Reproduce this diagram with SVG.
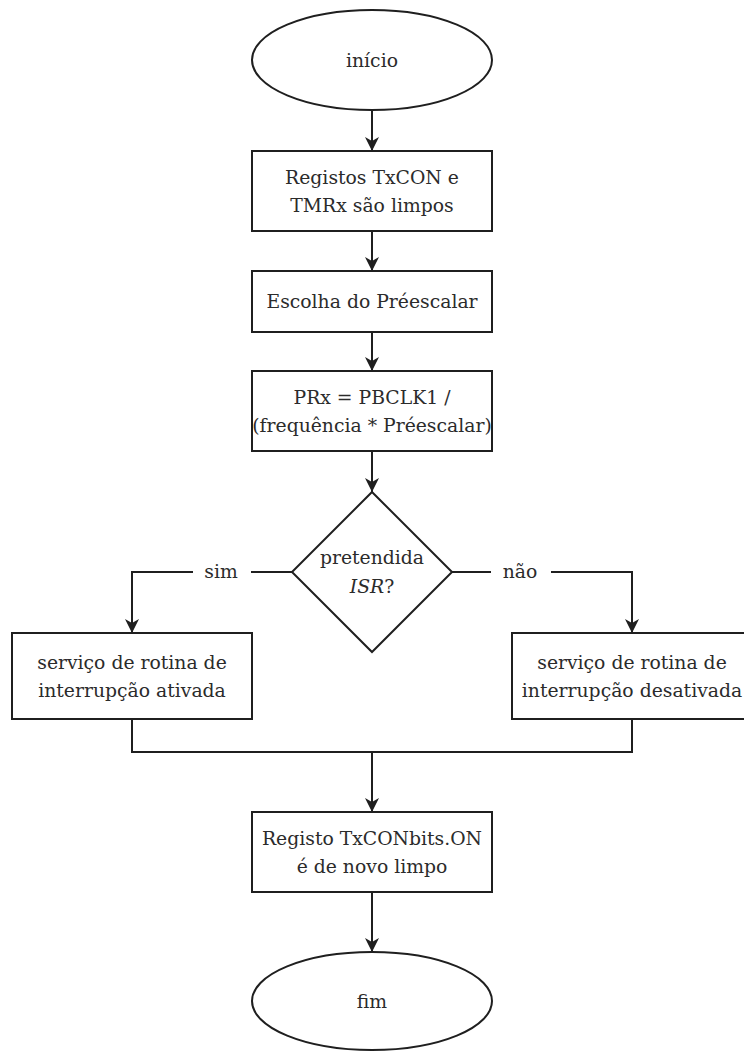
<svg xmlns="http://www.w3.org/2000/svg" width="744" height="1052" viewBox="0 0 744 1052">
  <style>
    .shape { fill: #ffffff; stroke: #1f1f1f; stroke-width: 2; }
    .edge { fill: none; stroke: #1f1f1f; stroke-width: 2; }
    .label { font-family: "DejaVu Serif", "Liberation Serif", serif; font-size: 18.8px; fill: #2b2b2b; text-anchor: middle; }
    .gap { fill: #ffffff; stroke: none; }
  </style>
  <defs>
    <marker id="arrow" viewBox="0 0 14 14" refX="14" refY="7" markerWidth="14" markerHeight="14" markerUnits="userSpaceOnUse" orient="auto">
      <path d="M0,0 L14,7 L0,14 L4,7 Z" fill="#1f1f1f"/>
    </marker>
  </defs>
  <rect width="744" height="1052" fill="#ffffff"/>

  <!-- connectors -->
  <g id="connectors">
    <path class="edge" d="M372,110 V151" marker-end="url(#arrow)"/>
    <path class="edge" d="M372,231 V271" marker-end="url(#arrow)"/>
    <path class="edge" d="M372,332 V371" marker-end="url(#arrow)"/>
    <path class="edge" d="M372,451 V492" marker-end="url(#arrow)"/>
    <!-- yes branch -->
    <path class="edge" d="M292,572 H132 V633" marker-end="url(#arrow)"/>
    <rect class="gap" x="193" y="560" width="58" height="24"/>
    <text class="label" x="221" y="578">sim</text>
    <!-- no branch -->
    <path class="edge" d="M452,572 H632 V633" marker-end="url(#arrow)"/>
    <rect class="gap" x="491" y="560" width="60" height="24"/>
    <text class="label" x="520" y="578">não</text>
    <!-- merge -->
    <path class="edge" d="M132,719 V752 H632 V719"/>
    <path class="edge" d="M372,752 V812" marker-end="url(#arrow)"/>
    <path class="edge" d="M372,892 V952" marker-end="url(#arrow)"/>
  </g>

  <g id="start">
    <ellipse class="shape" cx="372" cy="60" rx="120" ry="50"/>
    <text class="label" x="372" y="67">início</text>
  </g>

  <g id="clear-registers">
    <rect class="shape" x="252" y="151" width="240" height="80"/>
    <text class="label" x="372" y="184">Registos TxCON e</text>
    <text class="label" x="372" y="212">TMRx são limpos</text>
  </g>

  <g id="prescaler">
    <rect class="shape" x="252" y="271" width="240" height="61"/>
    <text class="label" x="372" y="308">Escolha do Préescalar</text>
  </g>

  <g id="period">
    <rect class="shape" x="252" y="371" width="240" height="80"/>
    <text class="label" x="372" y="404">PRx = PBCLK1 /</text>
    <text class="label" x="372" y="432">(frequência * Préescalar)</text>
  </g>

  <g id="decision">
    <path class="shape" d="M372,492 L452,572 L372,652 L292,572 Z"/>
    <text class="label" x="372" y="564">pretendida</text>
    <text class="label" x="372" y="593"><tspan font-style="italic">ISR</tspan>?</text>
  </g>

  <g id="isr-on">
    <rect class="shape" x="12" y="633" width="240" height="86"/>
    <text class="label" x="132" y="669">serviço de rotina de</text>
    <text class="label" x="132" y="697">interrupção ativada</text>
  </g>

  <g id="isr-off">
    <rect class="shape" x="512" y="633" width="240" height="86"/>
    <text class="label" x="632" y="669">serviço de rotina de</text>
    <text class="label" x="632" y="697">interrupção desativada</text>
  </g>

  <g id="clear-on-bit">
    <rect class="shape" x="252" y="812" width="240" height="80"/>
    <text class="label" x="372" y="845">Registo TxCONbits.ON</text>
    <text class="label" x="372" y="873">é de novo limpo</text>
  </g>

  <g id="end">
    <ellipse class="shape" cx="372" cy="1001" rx="120" ry="49"/>
    <text class="label" x="372" y="1008">fim</text>
  </g>
</svg>
